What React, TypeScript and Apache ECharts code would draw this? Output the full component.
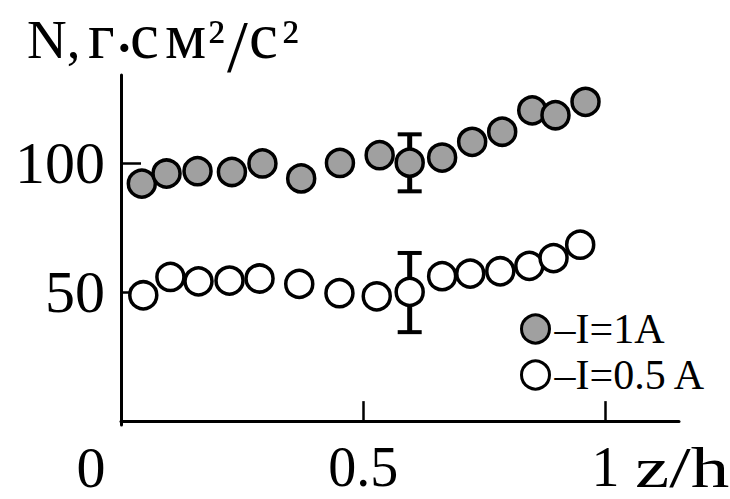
import React, { useEffect, useRef } from "react";
import * as echarts from "echarts";

// z/h positions and N values (г·см²/с²)
const xI1 = [0.043, 0.094, 0.158, 0.229, 0.292, 0.372, 0.452, 0.534, 0.596, 0.663, 0.725, 0.787, 0.849, 0.897, 0.959];
const yI1 = [92.1, 96.0, 96.9, 96.6, 99.9, 94.1, 100.1, 103.1, 100.2, 102.2, 108.3, 112.2, 120.5, 118.6, 123.8];
const xI05 = [0.046, 0.102, 0.160, 0.224, 0.286, 0.368, 0.451, 0.528, 0.596, 0.663, 0.721, 0.783, 0.843, 0.893, 0.948];
const yI05 = [48.8, 55.9, 54.2, 54.5, 55.3, 53.2, 49.6, 48.4, 50.1, 56.2, 57.2, 58.1, 60.2, 63.2, 68.4];
// error bars: [x, low, high]
const errorBars = [
  [0.596, 89.1, 111.2],
  [0.596, 34.5, 65.2],
];
const xTicks = [0.5, 1];
const yTicks = [50, 100];
const seriesNames = ["–I=1A", "–I=0.5 A"];

const FONT = "Liberation Serif, Times New Roman, serif";

// baseline-anchored text helper (central baseline ≈ 0.3375em above alphabetic baseline)
function txt(text: string, x: number, baseline: number, fs: number, extra: any = {}) {
  return {
    type: "text",
    x,
    y: baseline - 0.3375 * fs,
    ...extra,
    style: {
      text,
      fontFamily: FONT,
      fontSize: fs,
      fill: "#000",
      align: "left",
      verticalAlign: "middle",
      ...(extra.style || {}),
    },
  };
}

export default function App() {
  const ref = useRef<HTMLDivElement>(null);
  useEffect(() => {
    if (!ref.current) return;
    const chart = echarts.init(ref.current, undefined, { renderer: "svg" });
    const option: any = {
      animation: false,
      backgroundColor: "#ffffff",
      grid: { left: 121, right: 51, top: 75, bottom: 74 },
      xAxis: {
        type: "value",
        min: 0,
        max: 1.152,
        splitLine: { show: false },
        axisLine: { show: true, lineStyle: { color: "#000", width: 3 } },
        axisTick: { show: true, inside: true, length: 20, lineStyle: { color: "#000", width: 2.5 }, customValues: xTicks },
        axisLabel: {
          show: true,
          customValues: xTicks,
          margin: 14,
          fontFamily: FONT,
          fontSize: 56,
          lineHeight: 56,
          color: "#000",
          formatter: (v: number) => String(v),
        },
      },
      yAxis: {
        type: "value",
        min: -1.5,
        max: 134.2,
        splitLine: { show: false },
        axisLine: { show: true, lineStyle: { color: "#000", width: 3 } },
        axisTick: { show: true, inside: true, length: 20, lineStyle: { color: "#000", width: 2.5 }, customValues: yTicks },
        axisLabel: {
          show: true,
          customValues: yTicks,
          margin: 16,
          fontFamily: FONT,
          fontSize: 60,
          color: "#000",
        },
      },
      legend: {
        orient: "vertical",
        left: 515,
        top: 301,
        itemWidth: 28,
        itemHeight: 28,
        itemGap: 0,
        icon: "circle",
        textStyle: { fontFamily: FONT, fontSize: 42, lineHeight: 46, color: "#000" },
        data: [
          { name: seriesNames[0], itemStyle: { color: "#a0a0a0", borderColor: "#000", borderWidth: 3 } },
          { name: seriesNames[1], itemStyle: { color: "#fff", borderColor: "#000", borderWidth: 3 } },
        ],
      },
      graphic: [
        // axis title N, г·см²/с²
        txt("N,", 27, 58, 55),
        txt("г", 88, 58, 65),
        txt("·", 116, 65, 50, { style: { fontWeight: "bold" } }),
        txt("с", 130, 58, 65),
        txt("м", 165, 58, 65),
        txt("²", 208, 58, 56),
        txt("/", 227, 72, 75),
        txt("с", 249, 58, 65),
        txt("²", 282, 58, 56),
        // origin label and x axis name
        {
          type: "text",
          x: 91,
          y: 467,
          style: { text: "0", fontFamily: FONT, fontSize: 58, fill: "#000", align: "center", verticalAlign: "middle" },
        },
        {
          type: "text",
          x: 635,
          y: 467,
          scaleX: 1.33,
          style: { text: "z/h", fontFamily: FONT, fontSize: 58, fill: "#000", align: "left", verticalAlign: "middle" },
        },
      ],
      series: [
        {
          type: "custom",
          name: "err",
          z: 1,
          silent: true,
          encode: { x: 0, y: [1, 2] },
          data: errorBars,
          renderItem: (params: any, api: any) => {
            const x = api.value(0);
            const lo = api.coord([x, api.value(1)]);
            const hi = api.coord([x, api.value(2)]);
            const half = 12;
            const st = { stroke: "#000", lineWidth: 5 };
            const cap = { stroke: "#000", lineWidth: 4 };
            return {
              type: "group",
              children: [
                { type: "line", shape: { x1: hi[0], y1: hi[1], x2: lo[0], y2: lo[1] }, style: st },
                { type: "line", shape: { x1: hi[0] - half, y1: hi[1], x2: hi[0] + half, y2: hi[1] }, style: cap },
                { type: "line", shape: { x1: lo[0] - half, y1: lo[1], x2: lo[0] + half, y2: lo[1] }, style: cap },
              ],
            };
          },
        },
        {
          type: "scatter",
          name: seriesNames[0],
          z: 3,
          symbol: "circle",
          symbolSize: 27,
          itemStyle: { color: "#a0a0a0", borderColor: "#000", borderWidth: 3.5, opacity: 1 },
          data: xI1.map((x, i) => [x, yI1[i]]),
        },
        {
          type: "scatter",
          name: seriesNames[1],
          z: 3,
          symbol: "circle",
          symbolSize: 27,
          itemStyle: { color: "#ffffff", borderColor: "#000", borderWidth: 3.5, opacity: 1 },
          data: xI05.map((x, i) => [x, yI05[i]]),
        },
      ],
    };
    chart.setOption(option);
    return () => chart.dispose();
  }, []);
  return (
    <div
      ref={ref}
      style={{ position: "fixed", left: 0, top: 0, width: 730, height: 499, background: "#fff" }}
    />
  );
}
